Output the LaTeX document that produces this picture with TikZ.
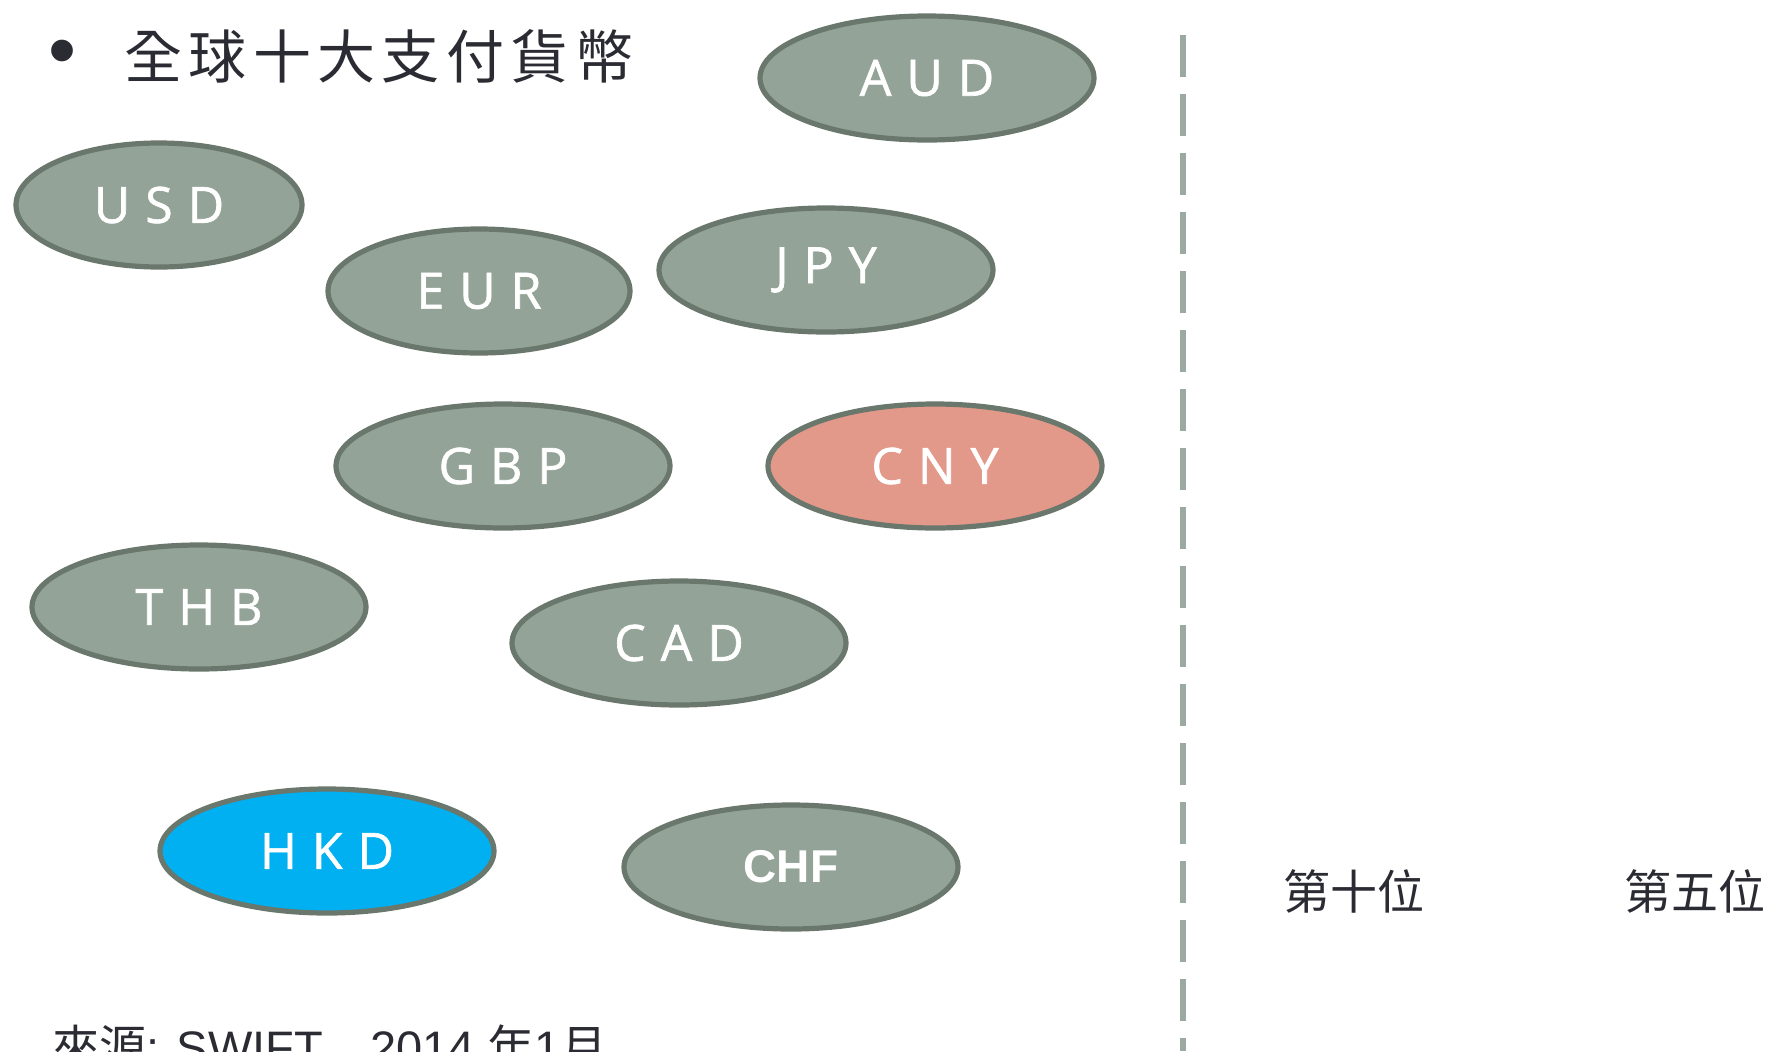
\documentclass[tikz,border=0pt]{standalone}
\usepackage{fontspec}
\setmainfont{Liberation Sans}
\newfontfamily\cjk{Noto Sans CJK TC}
\newfontfamily\cjksc{Noto Sans CJK SC}
\newfontfamily\titlefont[LetterSpace=11]{Noto Sans CJK TC}
\newfontfamily\curfont[LetterSpace=30,FakeBold=1.3]{Open Sans}
\newfontfamily\boldsans{Liberation Sans}
\usetikzlibrary{shapes.geometric}
\definecolor{gfill}{HTML}{93A397}
\definecolor{bordc}{HTML}{6A776C}
\definecolor{cnyfill}{HTML}{E3998A}
\definecolor{hkdfill}{HTML}{00B0F0}
\definecolor{dashc}{HTML}{9AAAA0}
\definecolor{txtc}{HTML}{2B2B33}
\tikzset{
  cur/.style={ellipse, draw=bordc, line width=2.6pt, fill=gfill,
    minimum width=167pt, minimum height=62pt, inner sep=0pt,
    text=white, font=\curfont\fontsize{25pt}{30pt}\selectfont},
  lbl/.style={text=txtc, inner sep=0pt},
}
\begin{document}
\begin{tikzpicture}[x=0.5pt,y=-0.5pt]
\useasboundingbox (0,0) rectangle (1769,1051);
\clip (0,0) rectangle (1769,1051);
% title
\node[lbl, font=\fontsize{40pt}{44pt}\selectfont] (bullet) at (63,59) {\textbullet};
\node[lbl, anchor=west, font=\titlefont\fontsize{29pt}{34pt}\selectfont] (title) at (124,56) {全球十大支付貨幣};
% currencies
\node[cur] (aud) at (927,78) {AUD};
\node[cur, minimum width=143pt] (usd) at (159,205) {USD};
\node[cur, minimum width=151pt] (eur) at (479,291) {EUR};
\node[cur] (jpy) at (826,270) {JPY};
\node[cur] (gbp) at (503,466) {GBP};
\node[cur, fill=cnyfill] (cny) at (935,466) {CNY};
\node[cur] (thb) at (199,607) {THB};
\node[cur] (cad) at (679,643) {CAD};
\node[cur, fill=hkdfill] (hkd) at (327,851) {HKD};
\node[cur, font=\boldsans\bfseries\fontsize{23pt}{28pt}\selectfont] (chf) at (791,867) {CHF};
% divider
\coordinate (dtop) at (1183,35);
\coordinate (dbot) at (1183,1051);
\draw[dashc, line width=2.7pt, dash pattern=on 21pt off 8.5pt] (dtop) -- (dbot);
% right labels
\node[lbl, font=\cjk\fontsize{23.5pt}{28pt}\selectfont] (tenth) at (1354,891) {第十位};
\node[lbl, font=\cjk\fontsize{23.5pt}{28pt}\selectfont] (fifth) at (1695,891) {第五位};
% source
\node[lbl, anchor=base west, font=\fontsize{23.5pt}{28pt}\selectfont] (src) at (52,1064) {{\cjk 來源}: SWIFT{\cjksc ，}2014 {\cjk 年}1{\cjk 月}};
\end{tikzpicture}
\end{document}
